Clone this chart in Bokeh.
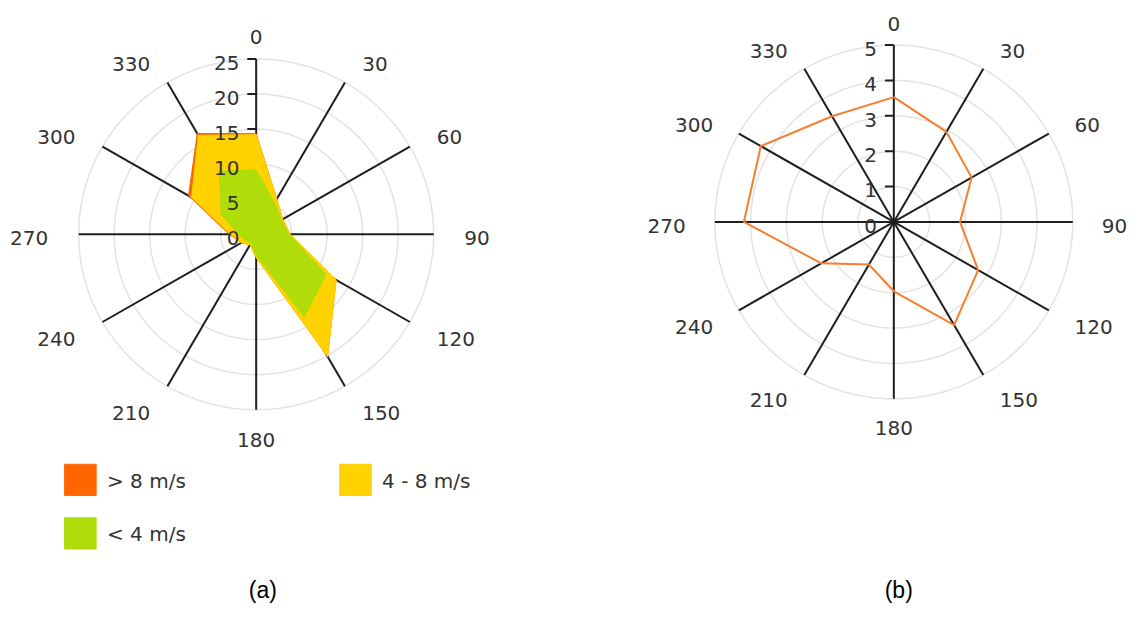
import numpy as np
from bokeh.plotting import figure
from bokeh.models import Range1d
from bokeh.core.properties import value
from bokeh.embed import file_html
from bokeh.resources import INLINE

# ---------------- data ----------------
directions = [0, 30, 60, 90, 120, 150, 180, 210, 240, 270, 300, 330]
dir_labels = [str(d) for d in directions]

# (a) stacked wind rose, frequency (%) per speed class
speed_lt4 = [9.2, 5.2, 4.1, 4.6, 11.4, 13.6, 3.0, 1.5, 1.7, 2.5, 5.7, 10.4]
speed_4_8 = [5.0, 0.6, 0.2, 0.2, 1.6, 6.5, 0.3, 0.2, 0.7, 1.1, 4.8, 5.9]
speed_gt8 = [0.15, 0.0, 0.0, 0.0, 0.0, 0.0, 0.0, 0.0, 0.0, 0.2, 0.5, 0.3]
legend_labels = ["> 8 m/s", "4 - 8 m/s", "< 4 m/s"]
rticks_a = [0, 5, 10, 15, 20, 25]

# (b) single series
series_b = [3.53, 2.94, 2.51, 1.85, 2.72, 3.37, 1.96, 1.39, 2.34, 4.19, 4.29, 3.45]
rticks_b = [0, 1, 2, 3, 4, 5]

captions = ["(a)", "(b)"]

# ---------------- styling ----------------
# data space is a 1143 x 621 canvas (y downwards) drawn into a 1127 x 605 figure
CW, CH = 1143, 621
W, H = 1127, 605
C_GT8 = "#FF6600"
C_48 = "#FFD200"
C_LT4 = "#B0DC0A"
C_LINE = "#F57F30"
TXT = "#333333"
FONT = value("DejaVu Sans")
FS = "20px"

p = figure(width=W, height=H, output_backend="svg", toolbar_location=None,
           x_range=Range1d(0, CW), y_range=Range1d(CH, 0), min_border=0)
p.axis.visible = False
p.grid.visible = False
p.outline_line_color = None


def polar_xy(cx, cy, scale, r, theta_deg):
    r = np.asarray(r, dtype=float)
    t = np.deg2rad(np.asarray(theta_deg, dtype=float))
    return cx + scale * r * np.sin(t), cy - scale * r * np.cos(t)


def frame(cx, cy, R, rmax, ticks):
    scale = R / rmax
    tt = np.linspace(0, 360, 361)
    xs, ys = [], []
    for v in ticks[1:]:
        x, y = polar_xy(cx, cy, scale, np.full_like(tt, v), tt)
        xs.append(list(x)); ys.append(list(y))
    p.multi_line(xs, ys, line_color="#E3E3E3", line_width=1.5)
    sx, sy = [], []
    for d in directions:
        x, y = polar_xy(cx, cy, scale, [0, rmax], [d, d])
        sx.append(list(x)); sy.append(list(y))
    p.multi_line(sx, sy, line_color="#1E1E1E", line_width=2)
    tx, ty = [], []
    for v in ticks:
        y = cy - scale * v
        tx.append([cx - 9, cx]); ty.append([y, y])
    p.multi_line(tx, ty, line_color="#1E1E1E", line_width=2)
    return scale


def labels(cx, cy, scale, ticks):
    for d, lab in zip(directions, dir_labels):
        s, c = np.sin(np.deg2rad(d)), np.cos(np.deg2rad(d))
        x = cx + 207 * s + (4 if s > 0.1 else (-4 if s < -0.1 else 0))
        y = cy - 207 * c + 4
        align = "left" if s > 0.1 else ("right" if s < -0.1 else "center")
        p.text([x], [y], text=[lab], text_font=FONT, text_font_size=FS,
               text_color=TXT, text_align=align, text_baseline="middle")
    for v in ticks:
        p.text([cx - 17], [cy - scale * v + 4], text=[str(v)], text_font=FONT,
               text_font_size=FS, text_color=TXT, text_align="right",
               text_baseline="middle")


# ---------------- chart (a) ----------------
cxa, cya = 259.3, 240.0
sa = frame(cxa, cya, 180.0, 25, rticks_a)
lt4 = np.array(speed_lt4)
mid = lt4 + np.array(speed_4_8)
top = mid + np.array(speed_gt8)
for vals, col in [(top, C_GT8), (mid, C_48), (lt4, C_LT4)]:
    x, y = polar_xy(cxa, cya, sa, vals, directions)
    p.patch(list(x), list(y), fill_color=col, line_color=col, line_width=1)
labels(cxa, cya, sa, rticks_a)

# legend
leg = [(65, 476, C_GT8, legend_labels[0]), (344, 476, C_48, legend_labels[1]),
       (65, 531, C_LT4, legend_labels[2])]
for lx, ly, col, lab in leg:
    p.quad(left=[lx], right=[lx + 32], top=[ly], bottom=[ly + 32],
           fill_color=col, line_color=col)
    p.text([lx + 43], [ly + 17], text=[lab], text_font=FONT, text_font_size=FS,
           text_color=TXT, text_align="left", text_baseline="middle")

# ---------------- chart (b) ----------------
cxb, cyb = 906.0, 227.3
sb = frame(cxb, cyb, 181.5, 5, rticks_b)
labels(cxb, cyb, sb, rticks_b)
x, y = polar_xy(cxb, cyb, sb, series_b + series_b[:1], directions + directions[:1])
p.line(list(x), list(y), line_color=C_LINE, line_width=2)

# captions
for cx, cap in zip([266, 911], captions):
    p.text([cx], [605], text=[cap], text_font=value("Liberation Sans"),
           text_font_size="23px", text_color="#000000", text_align="center",
           text_baseline="middle")

open("out.html", "w").write(file_html(p, INLINE))
